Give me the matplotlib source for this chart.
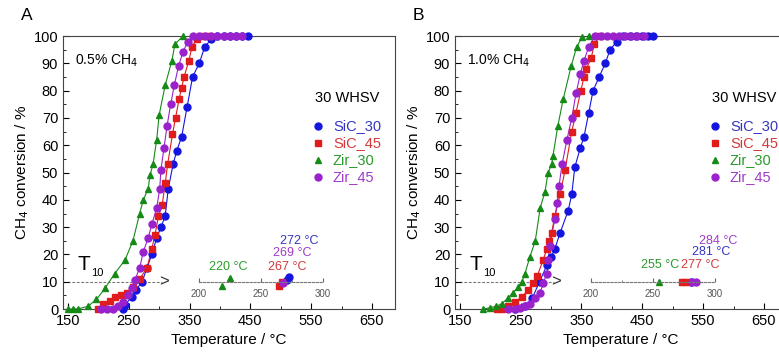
import matplotlib
matplotlib.use("Agg")
import matplotlib.pyplot as plt
from matplotlib.ticker import MultipleLocator, FixedLocator

plt.rcParams['font.family'] = ['Liberation Sans', 'DejaVu Sans']

# --- data (temperature in C, conversion in %) ---
# panel A: 0.5% CH4
a_sic30_t = [240, 244, 255, 262, 272, 280, 288, 296, 303, 310, 315, 323, 329, 337, 346, 355, 366, 375, 386, 396, 406, 416, 426, 436, 446]
a_sic30_c = [0, 1.5, 4.5, 7, 10, 15, 20, 26, 30, 34, 44, 53, 58, 63, 74, 85, 90, 96, 99, 100, 100, 100, 100, 100, 100]
a_sic45_t = [200, 207, 220, 227, 237, 247, 257, 268, 280, 288, 293, 299, 305, 310, 314, 322, 327, 333, 337, 341, 349, 354, 362, 372, 382]
a_sic45_c = [0, 1.8, 2.8, 4.4, 5, 6, 8, 11, 15, 22, 27, 34, 38, 46, 53, 64, 70, 77, 81, 85, 91, 96, 99, 100, 100]
a_zir30_t = [150, 158, 166, 183, 197, 211, 227, 244, 257, 268, 274, 282, 285, 290, 296, 300, 310, 321, 326, 339]
a_zir30_c = [0, 0, 0, 1, 3.5, 7.6, 13, 18, 25, 35, 40, 44, 49, 53, 62, 71, 82, 91, 97, 100]
a_zir45_t = [205, 215, 225, 232, 241, 249, 255, 260, 268, 274, 282, 288, 296, 301, 303, 308, 313, 319, 325, 332, 339, 347, 356, 366, 376, 386, 396, 406, 416, 426, 436]
a_zir45_c = [0, 0, 0, 1, 2.6, 5, 7.7, 10.6, 15, 21, 26, 31, 37, 44, 51, 59, 67, 75, 82, 89, 94, 98, 100, 100, 100, 100, 100, 100, 100, 100, 100]

# panel B: 1.0% CH4
b_sic30_t = [241, 257, 269, 281, 293, 300, 306, 315, 328, 334, 339, 348, 354, 362, 369, 379, 389, 397, 408, 419, 429, 439, 449, 459, 468]
b_sic30_c = [0, 1, 4, 10, 16, 19, 22, 28, 36, 42, 52, 59, 63, 72, 80, 85, 90, 95, 98, 100, 100, 100, 100, 100, 100]
b_sic45_t = [211, 219, 229, 241, 252, 262, 270, 277, 287, 293, 297, 301, 306, 315, 323, 334, 341, 349, 354, 358, 366, 371, 380]
b_sic45_c = [0, 0, 1, 2.6, 4.4, 7, 9.5, 12, 18, 22, 25, 28, 34, 42, 51, 65, 72, 80, 85, 88, 92, 97, 100]
b_zir30_t = [188, 200, 210, 219, 229, 237, 246, 252, 257, 265, 274, 282, 290, 295, 301, 303, 311, 320, 333, 342, 351, 362]
b_zir30_c = [0, 0.5, 1, 2, 4, 6, 8, 10, 13, 19, 25, 37, 43, 50, 53, 56, 67, 77, 89, 96, 99.6, 100]
b_zir45_t = [229, 241, 249, 257, 265, 274, 282, 287, 293, 295, 298, 306, 310, 313, 318, 326, 334, 341, 348, 354, 362, 372, 382, 392, 402, 412, 422, 432, 442, 452]
b_zir45_c = [0, 0, 0.5, 1, 2, 4, 6, 9.5, 13, 18, 23, 33, 39, 45, 53, 62, 70, 79, 86, 91, 96, 100, 100, 100, 100, 100, 100, 100, 100, 100]

# T10 markers on the small 200-300 scale (value, vertical offset)
a_t10_pts = {'SiC_30': [(271, 0.1), (273, 0.35)], 'SiC_45': [(265, -0.3), (267, 0.0)],
             'Zir_30': [(219, -0.3), (225, 0.3)], 'Zir_45': [(268, -0.1)]}
b_t10_pts = {'SiC_30': [(281, 0.0)], 'SiC_45': [(274, 0.0), (277, 0.0)],
             'Zir_30': [(255, 0.0)], 'Zir_45': [(282, 0.0), (285, 0.0)]}
a_t10_labels = ['272 °C', '267 °C', '220 °C', '269 °C']
b_t10_labels = ['281 °C', '277 °C', '255 °C', '284 °C']

series = ['SiC_30', 'SiC_45', 'Zir_30', 'Zir_45']
colors = ['#1515e0', '#e01c1c', '#168a16', '#9a22cc']
text_colors = ['#3535c0', '#d23a3a', '#2a9a2a', '#a03cc8']
markers = ['o', 's', '^', 'o']


def draw_panel(ax, curves, t10_pts, t10_labels, lab_pos, conc_text, letter, leg_x):
    ax.set_xlim(142, 688)
    ax.set_ylim(0, 100)
    for (t, c), name, col, mk in zip(curves, series, colors, markers):
        ax.plot(t, c, color=col, lw=0.8, zorder=2, clip_on=False)
        ax.plot(t, c, ls='none', marker=mk, ms=5 if mk != 's' else 4.5,
                color=col, mec=col, zorder=3, clip_on=False, label=name)

    ax.xaxis.set_major_locator(FixedLocator([150, 250, 350, 450, 550, 650]))
    ax.xaxis.set_minor_locator(FixedLocator([200, 300, 400, 500, 600]))
    ax.yaxis.set_major_locator(MultipleLocator(10))
    ax.yaxis.set_minor_locator(MultipleLocator(5))
    ax.tick_params(which='both', direction='in', labelsize=10.5)
    ax.tick_params(which='major', length=4)
    ax.tick_params(which='minor', length=2.5)
    for s in ax.spines.values():
        s.set_linewidth(0.8)
        s.set_color('#444444')

    ax.set_xlabel('Temperature / °C', fontsize=11, labelpad=4)
    ax.set_ylabel('CH$_4$ conversion / %', fontsize=11, labelpad=2)

    ax.text(0.036, 0.91, conc_text, transform=ax.transAxes, fontsize=10, va='center')
    ax.text(-0.11, 1.075, letter, transform=ax.transAxes, fontsize=12.5, ha='center', va='center')

    # legend drawn by hand to match spacing
    ax.text(leg_x, 0.773, '30 WHSV', transform=ax.transAxes, fontsize=10.5, va='center')
    for i, (name, col, tc, mk) in enumerate(zip(series, colors, text_colors, markers)):
        y = 0.670 - i * 0.062
        ax.plot(leg_x + 0.01, y, transform=ax.transAxes, ls='none', marker=mk,
                ms=5 if mk != 's' else 4.5, color=col, clip_on=False)
        ax.text(leg_x + 0.054, y, name, transform=ax.transAxes, fontsize=10.5,
                color=tc, va='center')

    # T10 guide
    ax.plot([142, 305], [10, 10], color='#777777', lw=0.8, ls=(0, (2.5, 1.5)), zorder=1)
    ax.text(300, 10, '>', fontsize=12, va='center', ha='left', color='#333333')
    ax.text(166, 13, 'T', fontsize=15, va='bottom', ha='left')
    ax.text(188, 11.5, '10', fontsize=8, va='bottom', ha='left')

    # small 200-300 scale
    ins = ax.inset_axes([365, 5, 204, 10], transform=ax.transData)
    ins.patch.set_visible(False)
    ins.set_xlim(200, 300)
    ins.set_ylim(-1, 1)
    for k in ['top', 'left', 'right']:
        ins.spines[k].set_visible(False)
    ins.spines['bottom'].set_position(('data', 0))
    ins.spines['bottom'].set_linestyle((0, (2, 1.5)))
    ins.spines['bottom'].set_color('#777777')
    ins.spines['bottom'].set_linewidth(0.8)
    ins.set_yticks([])
    ins.set_xticks([200, 250, 300])
    ins.set_xticks([225, 275], minor=True)
    ins.tick_params(which='both', direction='in', length=3, color='#666666',
                    labelsize=7, labelcolor='#555555', pad=5)
    ins.tick_params(which='minor', length=1.5)
    for name, col, mk in zip(series, colors, markers):
        for v, dy in t10_pts[name]:
            ins.plot(v, dy, ls='none', marker=mk, ms=5 if mk != 's' else 4.5,
                     color=col, clip_on=False)
    for lab, tc, (x, y) in zip(t10_labels, text_colors, lab_pos):
        ax.text(x, y, lab, color=tc, fontsize=9, ha='center', va='center')


fig = plt.figure(figsize=(7.79, 3.54), dpi=100)
ax_a = fig.add_axes([0.0809, 0.127, 0.4262, 0.771])
ax_b = fig.add_axes([0.5841, 0.127, 0.4262, 0.771])

draw_panel(ax_a,
           [(a_sic30_t, a_sic30_c), (a_sic45_t, a_sic45_c), (a_zir30_t, a_zir30_c), (a_zir45_t, a_zir45_c)],
           a_t10_pts, a_t10_labels,
           [(530, 25), (510, 15.4), (413, 15.4), (519, 20.5)],
           '0.5% CH$_4$', 'A', 0.759)
draw_panel(ax_b,
           [(b_sic30_t, b_sic30_c), (b_sic45_t, b_sic45_c), (b_zir30_t, b_zir30_c), (b_zir45_t, b_zir45_c)],
           b_t10_pts, b_t10_labels,
           [(564, 21), (546, 16), (479, 16), (574, 25)],
           '1.0% CH$_4$', 'B', 0.774)

fig.savefig('out.png', dpi=100)
